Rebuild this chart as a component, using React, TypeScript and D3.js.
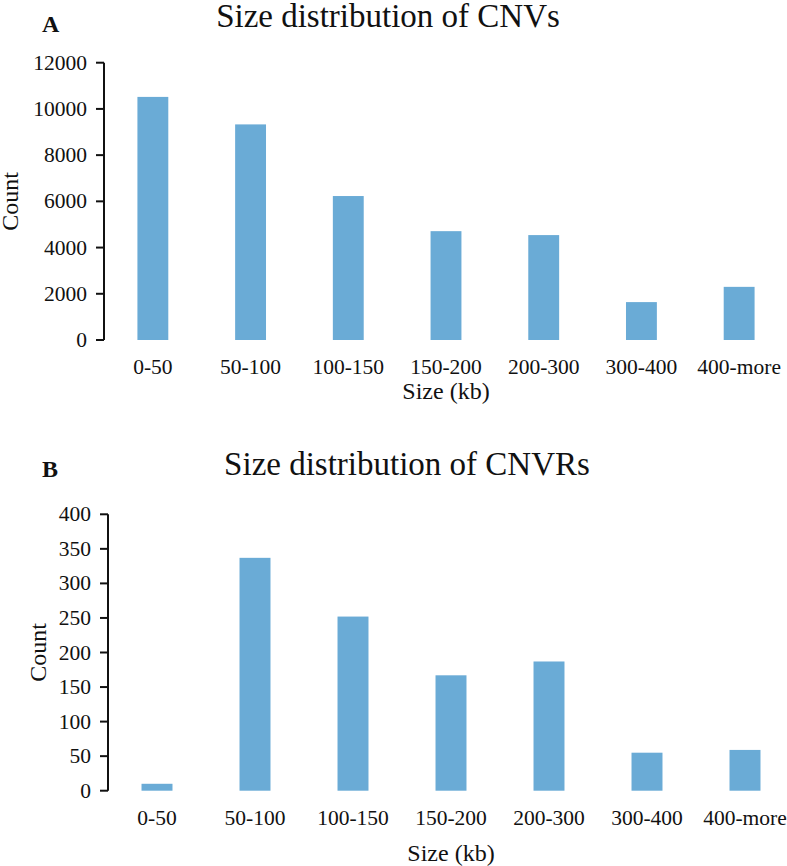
import React from "react";
import * as d3 from "d3";

const categories = ["0-50", "50-100", "100-150", "150-200", "200-300", "300-400", "400-more"];
const cnvCounts = [10520, 9330, 6230, 4710, 4540, 1640, 2300];
const cnvrCounts = [10, 337, 252, 167, 187, 55, 59];
const cnvTicks = [0, 2000, 4000, 6000, 8000, 10000, 12000];
const cnvrTicks = [0, 50, 100, 150, 200, 250, 300, 350, 400];

const FONT = "'Liberation Serif', 'Times New Roman', serif";
const BAR = "#6AABD6";

type PanelProps = {
  letter: string;
  title: string;
  values: number[];
  ticks: number[];
  x0: number;
  x1: number;
  yTop: number;
  yBot: number;
  titleX: number;
  titleY: number;
  letterY: number;
  countX: number;
  tickLabelY: number;
  xTitleY: number;
};

function Panel(p: PanelProps) {
  const x = d3.scaleBand<string>().domain(categories).range([p.x0, p.x1]).paddingInner(0.684).paddingOuter(0.342);
  const y = d3.scaleLinear().domain([0, p.ticks[p.ticks.length - 1]]).range([p.yBot, p.yTop]);
  return (
    <g fontFamily={FONT} fill="#111">
      <text x={42} y={p.letterY} fontSize={24} fontWeight="bold">{p.letter}</text>
      <text x={p.titleX} y={p.titleY} fontSize={33} textAnchor="middle">{p.title}</text>
      {p.values.map((v, i) => (
        <rect key={i} x={x(categories[i])} y={y(v)} width={x.bandwidth()} height={y(0) - y(v)} fill={BAR} />
      ))}
      <line x1={p.x0} x2={p.x0} y1={y(p.ticks[p.ticks.length - 1])} y2={y(0)} stroke="#111" strokeWidth={2} />
      {p.ticks.map((t) => (
        <g key={t}>
          <line x1={p.x0 - 8} x2={p.x0} y1={y(t)} y2={y(t)} stroke="#111" strokeWidth={2} />
          <text x={p.x0 - 17} y={y(t) + 7} fontSize={21.5} textAnchor="end">{t}</text>
        </g>
      ))}
      {categories.map((c) => (
        <text key={c} x={(x(c) as number) + x.bandwidth() / 2} y={p.tickLabelY} fontSize={21.5} textAnchor="middle">{c}</text>
      ))}
      <text x={(p.x0 + p.x1) / 2} y={p.xTitleY} fontSize={24} textAnchor="middle">Size (kb)</text>
      <text transform={`translate(${p.countX},${(p.yTop + p.yBot) / 2}) rotate(-90)`} fontSize={24} textAnchor="middle">Count</text>
    </g>
  );
}

export default function App() {
  return (
    <svg width={787} height={866} style={{ position: "absolute", left: 0, top: 0, background: "#fff" }}>
      <rect width={787} height={866} fill="#fff" />
      <Panel letter="A" title="Size distribution of CNVs" values={cnvCounts} ticks={cnvTicks}
        x0={104} x1={788} yTop={62.7} yBot={340} titleX={388} titleY={27} letterY={32}
        countX={18} tickLabelY={374} xTitleY={399} />
      <Panel letter="B" title="Size distribution of CNVRs" values={cnvrCounts} ticks={cnvrTicks}
        x0={108} x1={794} yTop={514.3} yBot={790.7} titleX={407} titleY={475} letterY={477}
        countX={46} tickLabelY={825} xTitleY={861} />
    </svg>
  );
}
